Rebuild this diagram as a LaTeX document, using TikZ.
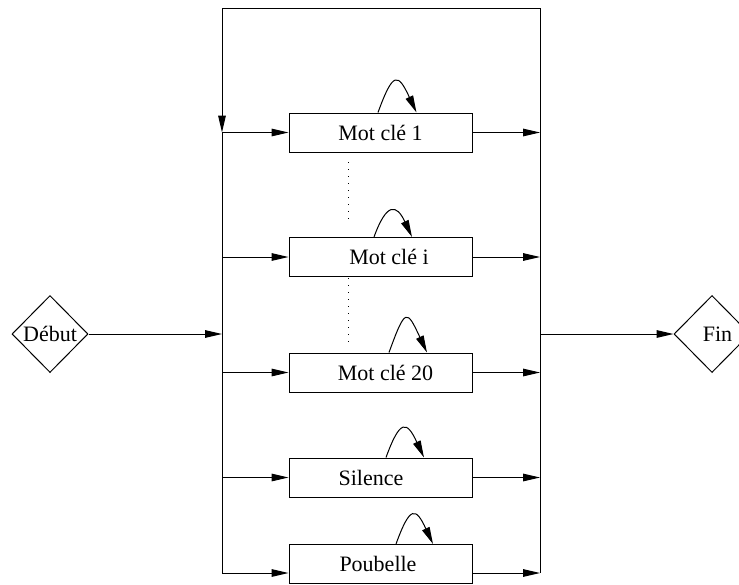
\documentclass[tikz,border=0pt]{standalone}
\usepackage{fontspec}
\setmainfont{Liberation Serif}
\usetikzlibrary{shapes.geometric,arrows.meta}
\begin{document}
\begin{tikzpicture}[x=0.5pt,y=-0.5pt, line width=0.5pt,
  every node/.style={font=\fontsize{11}{13}\selectfont},
  state/.style={draw, rectangle, minimum width=91.5pt, minimum height=19.5pt, inner sep=0pt},
  term/.style={draw, diamond, minimum width=38pt, minimum height=38.5pt, inner sep=0pt, aspect=1},
  flow/.style={-{Triangle[length=8.5pt,width=3.8pt]}},
  selfloop/.style={-{Triangle[length=8.5pt,width=4pt]}},
  gap/.style={dash pattern=on 0.5pt off 3pt}]
\useasboundingbox (0,0) rectangle (739,584);
% terminals
\node[term] (debut) at (50,334) {Début};
\node[term] (fin) at (712,334) {\hspace*{5.5pt}Fin};
% states
\node[state] (k1) at (380.5,132.5) {Mot clé 1};
\node[state] (ki) at (380.5,257) {\hspace*{8.5pt}Mot clé i};
\node[state] (k20) at (380.5,372.5) {\hspace*{5pt}Mot clé 20};
\node[state] (sil) at (380.5,477.5) {Silence\hspace*{9.5pt}};
\node[state] (pb) at (380.5,564) {Poubelle\hspace*{2.5pt}};
% bus coordinates
\coordinate (tl) at (222,8);
\coordinate (tr) at (540,8);
\coordinate (l1) at (222,132.5);
\coordinate (l2) at (222,257);
\coordinate (l3) at (222,372.5);
\coordinate (l4) at (222,477.5);
\coordinate (l5) at (222,573);
\coordinate (r1) at (540,132.5);
\coordinate (r2) at (540,257);
\coordinate (r3) at (540,372.5);
\coordinate (r4) at (540,477.5);
\coordinate (r5) at (540,573);
\coordinate (lm) at (222,334);
\coordinate (rm) at (540,334);
\coordinate (d1a) at (348,162);
\coordinate (d1b) at (348,225);
\coordinate (d2a) at (348,278);
\coordinate (d2b) at (348,342);
% buses
\draw[flow] (tr) -- (tl) -- (l1);
\draw (l1) -- (l5);
\draw (tr) -- (r5);
% start / end
\draw[flow] (debut.east) -- (lm);
\draw[flow] (rm) -- (fin.west);
% inputs
\draw[flow] (l1) -- (k1.west);
\draw[flow] (l2) -- (ki.west);
\draw[flow] (l3) -- (k20.west);
\draw[flow] (l4) -- (sil.west);
\draw[flow] (l5) -- (l5 -| pb.west);
% outputs
\draw[flow] (k1.east) -- (r1);
\draw[flow] (ki.east) -- (r2);
\draw[flow] (k20.east) -- (r3);
\draw[flow] (sil.east) -- (r4);
\draw[flow] (r5 -| pb.east) -- (r5);
% self loops
\draw[selfloop] ([xshift=-1.25pt]k1.north) .. controls +(70:22pt) and +(115:22pt) .. ([xshift=18pt]k1.north);
\draw[selfloop] ([xshift=-3.25pt]ki.north) .. controls +(70:18.4pt) and +(115:18.4pt) .. ([xshift=15.75pt]ki.north);
\draw[selfloop] ([xshift=4.25pt]k20.north) .. controls +(70:24pt) and +(115:24pt) .. ([xshift=23.25pt]k20.north);
\draw[selfloop] ([xshift=2.75pt]sil.north) .. controls +(70:20.5pt) and +(115:20.5pt) .. ([xshift=21.75pt]sil.north);
\draw[selfloop] ([xshift=7.75pt]pb.north) .. controls +(70:20.5pt) and +(115:20.5pt) .. ([xshift=26.25pt]pb.north);
% dotted gaps
\draw[gap] (d1a) -- (d1b);
\draw[gap] (d2a) -- (d2b);
\end{tikzpicture}
\end{document}
